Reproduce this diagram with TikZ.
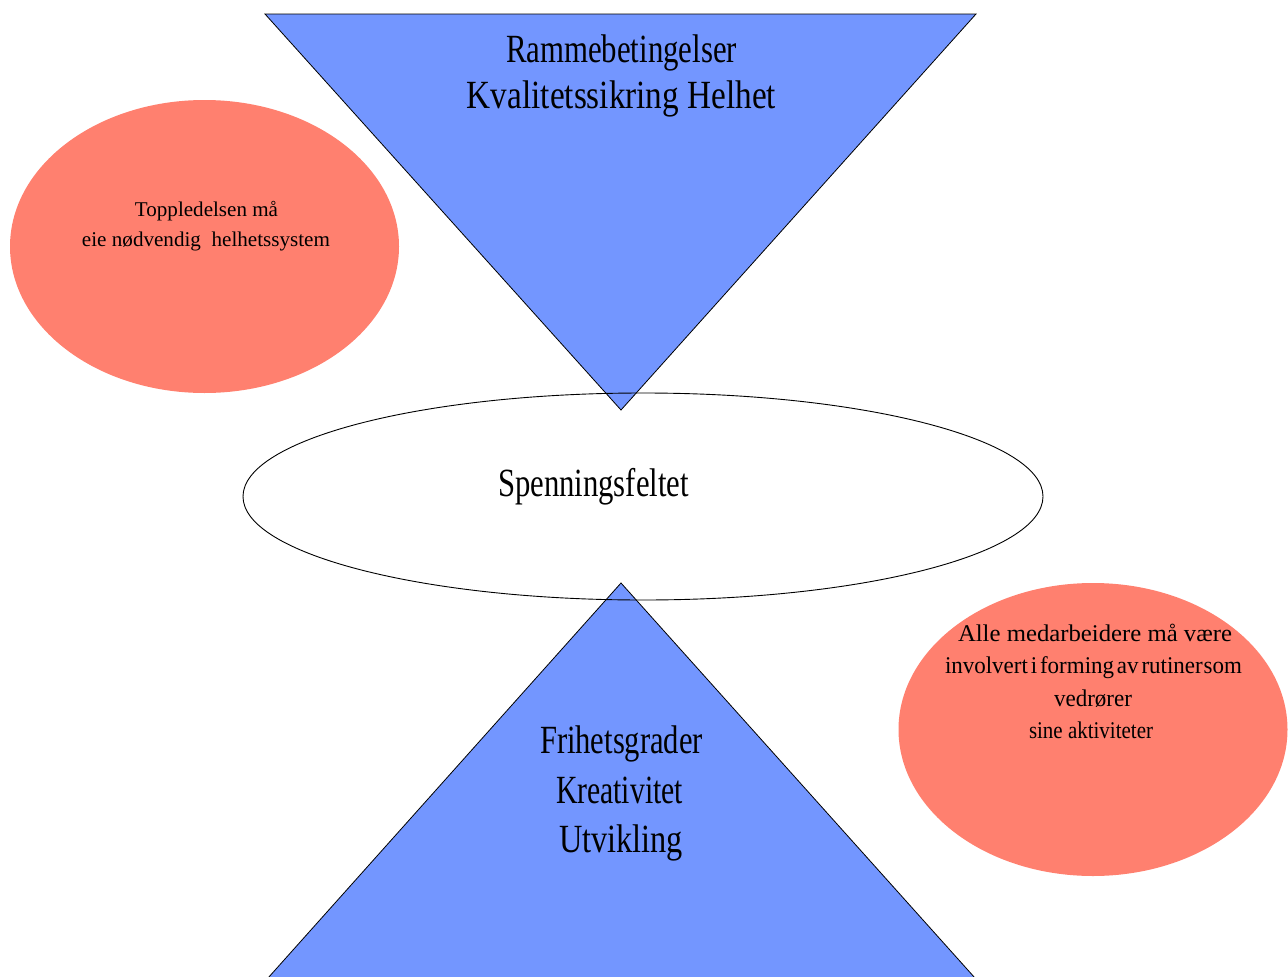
\documentclass[tikz,border=0pt]{standalone}
\usepackage{fontspec}
\usepackage{graphicx}
\setmainfont{Liberation Serif}
\usetikzlibrary{shapes.geometric}
\definecolor{coneblue}{HTML}{7396FF}
\definecolor{bubblered}{HTML}{FF806F}
% scale a line horizontally to a given width, keeping its height
\newcommand\fitw[2]{\resizebox{#1}{\height}{#2}}

\begin{document}
\begin{tikzpicture}[x=1pt,y=-1pt,
  cone/.style={fill=coneblue,draw=black,line width=0.8pt,line join=miter},
  bubble/.style={ellipse,fill=bubblered,draw=none,inner sep=0pt,
    minimum width=389pt,minimum height=293pt},
  field/.style={ellipse,draw=black,line width=0.9pt,inner sep=0pt,
    minimum width=800pt,minimum height=207pt},
  bigtext/.style={font=\fontsize{40}{46}\selectfont,inner sep=0pt,anchor=base},
  lefttext/.style={font=\fontsize{21}{25}\selectfont,inner sep=0pt,anchor=base},
  righttext/.style={font=\fontsize{24}{28}\selectfont,inner sep=0pt,anchor=base}]
\useasboundingbox (0,0) rectangle (1288,977);

% side bubbles
\node[bubble] (topbubble) at (204.5,246.5) {};
\node[bubble] (lowbubble) at (1093,729.5) {};

% the two cones
\coordinate (tl) at (265,14);
\coordinate (tr) at (976,14);
\coordinate (tapex) at (621,410);
\coordinate (bapex) at (621,583);
\coordinate (bl) at (268,978);
\coordinate (br) at (975,978);
\path[cone] (tl) -- (tr) -- (tapex) -- cycle;
\path[cone] (bapex) -- (br) -- (bl) -- cycle;

% field of tension between them
\node[field] (felt) at (643,496.5) {};

% texts
\node[bigtext] (t1) at (621.5,62) {\fitw{231pt}{Rammebetingelser}};
\node[bigtext] (t2) at (621.5,108) {\fitw{309pt}{Kvalitetssikring Helhet}};
\node[bigtext] (mid) at (593.5,496) {\fitw{191pt}{Spenningsfeltet}};
\node[bigtext] (b1) at (621.5,753) {\fitw{163pt}{Frihetsgrader}};
\node[bigtext] (b2) at (619.5,803) {\fitw{127pt}{Kreativitet}};
\node[bigtext] (b3) at (621,852) {\fitw{124pt}{Utvikling}};

\node[lefttext] (l1) at (206.5,216) {\fitw{143pt}{Toppledelsen må}};
\node[lefttext] (l2) at (206,246.5) {\fitw{248pt}{eie nødvendig\ \ helhetssystem}};

\node[righttext] (r1) at (1095,641) {\fitw{274pt}{Alle medarbeidere må være}};
\node[righttext] (r2) at (1093.5,673) {\fitw{297pt}{involvert\hspace{3pt}i\hspace{3pt}forming\hspace{3pt}av\hspace{3pt}rutiner\hspace{1pt}som}};
\node[righttext] (r3) at (1093,706) {\fitw{78pt}{vedrører}};
\node[righttext] (r4) at (1091,738) {\fitw{124pt}{sine aktiviteter}};
\end{tikzpicture}
\end{document}
